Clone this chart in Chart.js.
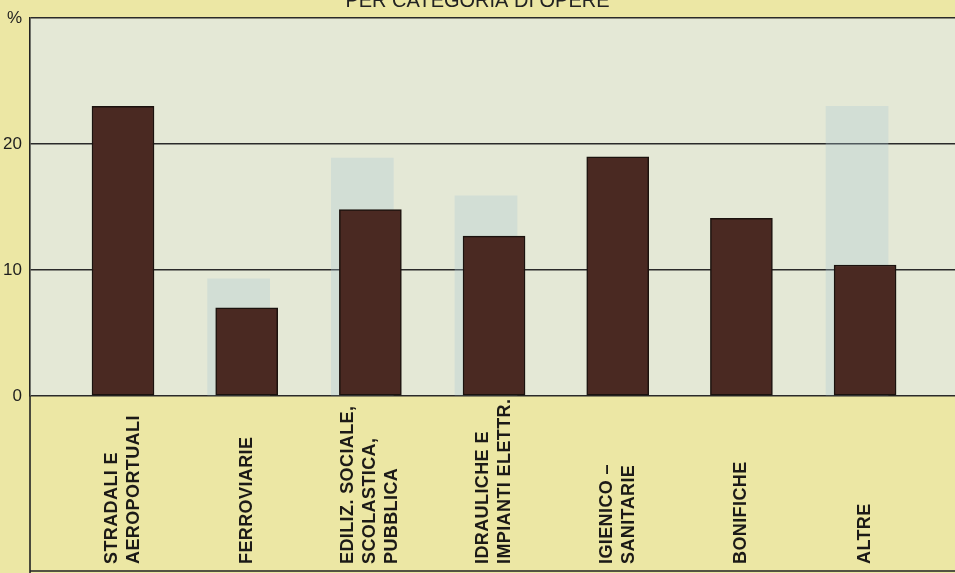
<!DOCTYPE html>
<html lang="it">
<head>
<meta charset="utf-8">
<script src="https://cdn.jsdelivr.net/npm/chart.js@4.4.1/dist/chart.umd.min.js"></script>
<style>
  html, body { margin: 0; padding: 0; background: #ece7a4; }
  #wrap { width: 955px; height: 573px; }
</style>
</head>
<body>
<div id="wrap"><canvas id="grafico"></canvas></div>
<script>
// Dati: categorie (una riga per voce), valori in %
const categorie = [
  ['STRADALI E', 'AEROPORTUALI'],
  ['FERROVIARIE'],
  ['EDILIZ. SOCIALE,', 'SCOLASTICA,', 'PUBBLICA'],
  ['IDRAULICHE E', 'IMPIANTI ELETTR.'],
  ['IGIENICO –', 'SANITARIE'],
  ['BONIFICHE'],
  ['ALTRE']
];
const percentuali = [23, 7, 14.8, 12.7, 19, 14.1, 10.4];
// barre in trasparenza della pagina retrostante
const ombre = [null, 9.3, 18.9, 15.9, null, null, 23];
const tickY = [0, 10, 20, 30];
const etichettaTop = '%';
const titolo = 'PER CATEGORIA DI OPERE';

const FONT = '"Liberation Sans", Arial, Helvetica, sans-serif';

// sfondo giallo della pagina + area del grafico chiara
const sfondo = {
  id: 'sfondo',
  beforeDraw(chart) {
    const { ctx, chartArea: a } = chart;
    ctx.save();
    ctx.fillStyle = '#ece7a4';
    ctx.fillRect(0, 0, chart.width, chart.height);
    ctx.fillStyle = '#e4e8d6';
    ctx.fillRect(a.left, a.top, a.right - a.left, a.bottom - a.top);
    ctx.restore();
  }
};

// prolungamento dell'asse verticale e riga di chiusura in basso
const cornice = {
  id: 'cornice',
  afterDraw(chart) {
    const { ctx, chartArea: a } = chart;
    ctx.save();
    ctx.strokeStyle = '#222';
    ctx.lineWidth = 1.6;
    ctx.beginPath();
    ctx.moveTo(a.left, a.bottom);
    ctx.lineTo(a.left, chart.height);
    ctx.moveTo(a.left, chart.height - 2);
    ctx.lineTo(chart.width, chart.height - 2);
    ctx.stroke();
    ctx.restore();
  }
};

// etichette verticali delle categorie, allineate in basso
const etichetteAsseX = {
  id: 'etichetteAsseX',
  afterDraw(chart) {
    const { ctx } = chart;
    const x = chart.scales.x;
    const base = chart.height - 9;
    const interlinea = 22;
    ctx.save();
    ctx.fillStyle = '#1c1a17';
    ctx.font = 'bold 18px ' + FONT;
    ctx.letterSpacing = '0.4px';
    ctx.textAlign = 'left';
    ctx.textBaseline = 'middle';
    categorie.forEach((righe, i) => {
      const cx = x.getPixelForValue(i);
      righe.forEach((riga, j) => {
        const px = cx + (j - (righe.length - 1) / 2) * interlinea;
        ctx.save();
        ctx.translate(px, base);
        ctx.rotate(-Math.PI / 2);
        ctx.fillText(riga, 0, 0);
        ctx.restore();
      });
    });
    ctx.restore();
  }
};

new Chart(document.getElementById('grafico'), {
  type: 'bar',
  data: {
    datasets: [{
      label: 'Percentuale',
      data: categorie.map((_, i) => ({ x: i, y: percentuali[i] })),
      backgroundColor: '#4a2922',
      borderColor: '#1b120e',
      borderWidth: 1.5,
      borderSkipped: false,
      barThickness: 62,
      grouped: false,
      order: 0,
      xAxisID: 'x'
    }, {
      label: 'ombra',
      data: categorie.map((_, i) => ({ x: i, y: ombre[i] })),
      backgroundColor: 'rgba(170, 200, 212, 0.3)',
      borderWidth: 0,
      barThickness: 62,
      grouped: false,
      order: 1,
      xAxisID: 'x2'
    }]
  },
  options: {
    responsive: true,
    maintainAspectRatio: false,
    animation: false,
    devicePixelRatio: 1,
    layout: { padding: { left: 0, right: 0, top: 0, bottom: 177 } },
    plugins: {
      legend: { display: false },
      tooltip: { enabled: false },
      title: {
        display: true,
        text: titolo,
        color: '#222',
        font: { family: FONT, size: 20, weight: 'normal' },
        padding: { top: -13, bottom: 5 }
      }
    },
    scales: {
      x: {
        type: 'linear',
        display: false,
        offset: false,
        min: -0.752,
        max: 6.727
      },
      x2: {
        type: 'linear',
        display: false,
        offset: false,
        min: -0.687,
        max: 6.792
      },
      y: {
        min: tickY[0],
        max: tickY[tickY.length - 1],
        afterBuildTicks: s => { s.ticks = tickY.map(v => ({ value: v })); },
        afterFit: s => { s.width = 30; },
        ticks: {
          padding: 8,
          color: '#1e1e1e',
          font: { family: FONT, size: 17 },
          callback: v => v === tickY[tickY.length - 1] ? etichettaTop : v
        },
        grid: { color: '#2a2a2a', lineWidth: 1.6, drawTicks: false },
        border: { display: true, color: '#222', width: 1.6 }
      }
    }
  },
  plugins: [sfondo, cornice, etichetteAsseX]
});
</script>
</body>
</html>
